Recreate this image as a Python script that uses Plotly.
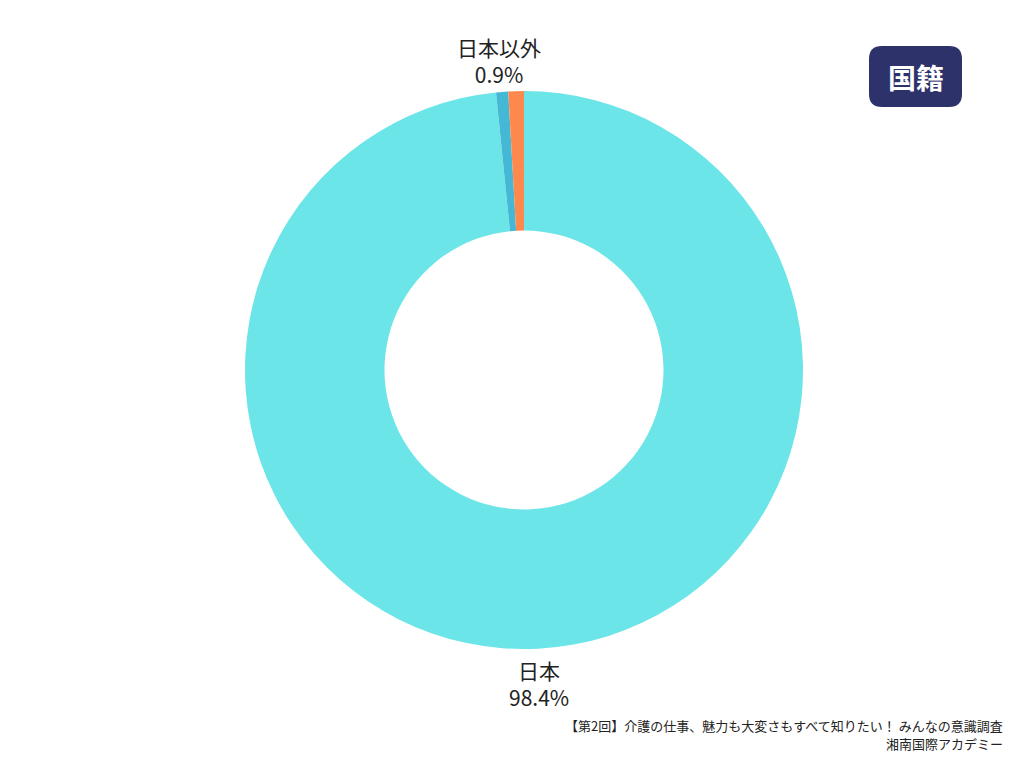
import plotly.graph_objects as go

labels = ["日本", "無回答", "日本以外"]
values = [98.4, 0.7, 0.9]
pct_text = ["98.4%", "", "0.9%"]
colors = ["#6BE5E8", "#45B8D6", "#FF884D"]
footer_lines = ["【第2回】介護の仕事、魅力も大変さもすべて知りたい！ みんなの意識調査", "湘南国際アカデミー"]

W, H = 1024, 768
OFF = 8  # page body margin
cx, cy, R = 524 - OFF, 370 - OFF, 279

fig = go.Figure(go.Pie(
    labels=labels, values=values,
    textinfo="none", hole=0.5, sort=False,
    direction="clockwise", rotation=0,
    marker=dict(colors=colors, line=dict(width=0)),
    domain=dict(x=[(cx - R) / W, (cx + R) / W], y=[(H - (cy + R)) / H, (H - (cy - R)) / H]),
    showlegend=False, hoverinfo="label+percent",
))

lab_font = dict(family="Noto Sans CJK JP", size=21, color="#222222")
# outside labels: (label index, centre x, centre y) in page pixels
label_pos = [(2, 498.5, 60), (0, 539, 683.5)]
for i, px, py in label_pos:
    fig.add_annotation(x=(px - OFF) / W, y=(H - (py - OFF)) / H, xref="paper", yref="paper",
                       xanchor="center", yanchor="middle",
                       text=f"{labels[i]}<br>{pct_text[i]}", showarrow=False,
                       font=lab_font)

# badge (pixel coords from bottom-left of the figure)
x0, x1 = 869 - OFF, 962 - OFF
y0, y1 = H - (107 - OFF), H - (46 - OFF)
r = 13
path = (f"M {x0+r},{y0} L {x1-r},{y0} Q {x1},{y0} {x1},{y0+r} L {x1},{y1-r} Q {x1},{y1} {x1-r},{y1} "
        f"L {x0+r},{y1} Q {x0},{y1} {x0},{y1-r} L {x0},{y0+r} Q {x0},{y0} {x0+r},{y0} Z")
fig.add_shape(type="path", path=path, xref="paper", yref="paper",
              xsizemode="pixel", ysizemode="pixel", xanchor=0, yanchor=0,
              fillcolor="#2E326B", line=dict(width=0), layer="below")
fig.add_annotation(x=(x0 + x1) / 2 / W, y=(y0 + y1) / 2 / H, xref="paper", yref="paper",
                   xanchor="center", yanchor="middle",
                   text="国籍", showarrow=False,
                   font=dict(family="Noto Sans CJK JP", size=28, color="white", weight="bold"))

for txt, py in zip(footer_lines, (725.5, 743.5)):
    fig.add_annotation(x=(1005 - OFF) / W, y=(H - (py - OFF)) / H, xref="paper", yref="paper",
                       xanchor="right", yanchor="middle", text=txt, showarrow=False,
                       font=dict(family="Noto Sans CJK JP", size=13, color="#222222"))

fig.update_layout(width=W, height=H, margin=dict(l=0, r=0, t=0, b=0),
                  paper_bgcolor="white", plot_bgcolor="white")
fig.write_html("out.html")
